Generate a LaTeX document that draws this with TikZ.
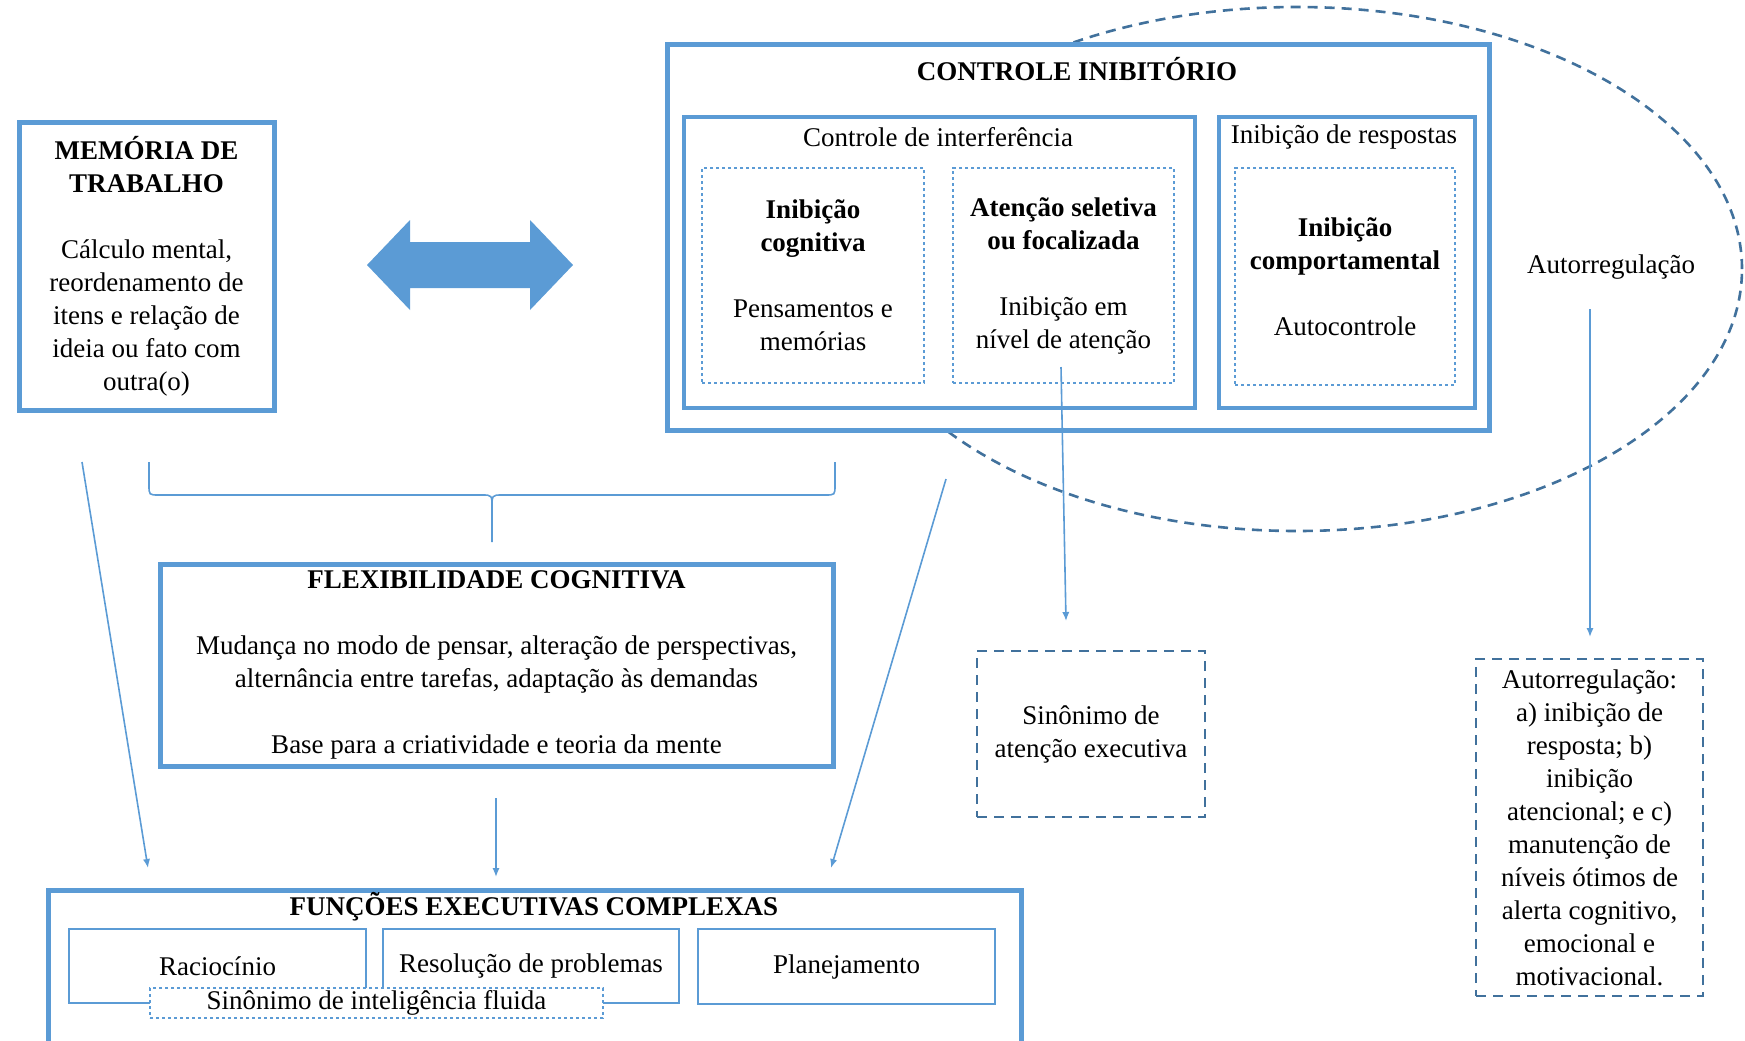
\documentclass[tikz,border=0pt]{standalone}
\usepackage{fontspec}
\setmainfont{Liberation Serif}
\usetikzlibrary{arrows.meta}

\definecolor{boxblue}{RGB}{91,155,213}
\definecolor{dashblue}{RGB}{65,113,156}

\tikzset{
  mainbox/.style={draw=boxblue, line width=2.5pt, fill=white, align=center, inner sep=0pt},
  subbox/.style={draw=boxblue, line width=2pt, fill=white, inner sep=0pt},
  innerbox/.style={draw=boxblue, line width=0.6pt, dash pattern=on 1.6pt off 1.4pt, align=center, inner sep=0pt},
  notebox/.style={draw=dashblue, line width=1.3pt, dash pattern=on 5pt off 3.5pt, align=center, inner sep=0pt},
  thinbox/.style={draw=boxblue, line width=0.8pt, fill=white, inner sep=0pt},
  boxsize/.style 2 args={minimum width=#1*0.5pt, minimum height=#2*0.5pt},
  link/.style={draw=boxblue, line width=0.8pt, -{Latex[length=4.5pt,width=3.6pt]}},
}

\begin{document}
\begin{tikzpicture}[x=0.5pt, y=-0.5pt, font=\fontsize{13.5}{16.5}\selectfont]
        \useasboundingbox (0,0) rectangle (1745,1040);
        % self-regulation ellipse, behind the inhibitory control box
        \draw[dashblue, line width=1.3pt, dash pattern=on 5pt off 3.5pt] (1297,269) ellipse (222.5pt and 131pt);
        % working memory
        \node[mainbox, boxsize={255}{288}] (mem) at (146.5,266)
          {\textbf{MEMÓRIA DE}\\\textbf{TRABALHO}\\[16.5pt]Cálculo mental,\\reordenamento de\\itens e relação de\\ideia ou fato com\\outra(o)};
        % coordinates for the double arrow
        \coordinate (leftpoint)   at (367,265);
        \coordinate (rightpoint)  at (573,265);
        \fill[boxblue] (leftpoint) -- (410,220) -- (410,242) -- (530,242) -- (530,220)
          -- (rightpoint) -- (530,310) -- (530,288) -- (410,288) -- (410,310) -- cycle;
        % inhibitory control
        \node[mainbox, boxsize={822}{386}] (ci) at (1078,237) {};
        \node (citit) at (1077,69) {\textbf{CONTROLE INIBITÓRIO}};
        \node[subbox, boxsize={511}{291}] (cint)  at (939.5,262.5) {};
        \node[subbox, boxsize={256}{291}] (iresp) at (1347,262.5) {};
        \node (cinttit)  at (938,137)  {Controle de interferência};
        \node (iresptit) at (1344,137) {Inibição de respostas};
        \node[innerbox, boxsize={222}{215}] (icog) at (813,275.5)
          {\textbf{Inibição}\\\textbf{cognitiva}\\[16.5pt]Pensamentos e\\memórias};
        \node[innerbox, boxsize={221}{215}] (aten) at (1063.5,275.5)
          {\textbf{Atenção seletiva}\\\textbf{ou focalizada}\\[16.5pt]Inibição em\\nível de atenção};
        \node[innerbox, boxsize={220}{217}] (icomp) at (1345,276.5)
          {\textbf{Inibição}\\\textbf{comportamental}\\[16.5pt]Autocontrole};
        \node (autotxt) at (1611,267) {Autorregulação};
        % cognitive flexibility
        \node[mainbox, boxsize={673}{202}] (flex) at (496.5,665)
          {\textbf{FLEXIBILIDADE COGNITIVA}\\[16.5pt]Mudança no modo de pensar, alteração de perspectivas,\\alternância entre tarefas, adaptação às demandas\\[16.5pt]Base para a criatividade e teoria da mente};
        % notes
        \node[notebox, boxsize={228}{166}] (atexec) at (1091,734) {Sinônimo de\\atenção executiva};
        \node[notebox, boxsize={227}{337}] (autoreg) at (1589.5,827.5)
          {Autorregulação:\\a) inibição de\\resposta; b)\\inibição\\atencional; e c)\\manutenção de\\níveis ótimos de\\alerta cognitivo,\\emocional e\\motivacional.};
        % complex executive functions
        \node[mainbox, boxsize={973}{170}] (func) at (534.5,975) {};
        \node (functit) at (534,907) {\textbf{FUNÇÕES EXECUTIVAS COMPLEXAS}};
        \node[thinbox, boxsize={297}{74}] (rac)   at (217.5,966) {Raciocínio};
        \node[thinbox, boxsize={296}{74}] (resol) at (531,966)   {Resolução de problemas};
        \node[thinbox, boxsize={297}{75}] (plan)  at (846.5,966.5) {Planejamento};
        \node[innerbox, fill=white, boxsize={453}{30}] (fluida) at (376.5,1003) {Sinônimo de inteligência fluida};
        % coordinates for the connectors
        \coordinate (memdown)    at (82,462);
        \coordinate (funcleft)   at (148,868);
        \coordinate (flexdown)   at (496,798);
        \coordinate (functop)    at (496,877);
        \coordinate (cidown)     at (946,479);
        \coordinate (funcright)  at (831,868);
        \coordinate (atenfoot)   at (1061,367);
        \coordinate (atexectop)  at (1066,621);
        \coordinate (autofoot)   at (1590,309);
        \coordinate (autoregtop) at (1590,637);
        \coordinate (braceleft)  at (149,462);
        \coordinate (braceright) at (835,462);
        \coordinate (bracetip)   at (492,542);
        % brace joining memory and inhibitory control
        \draw[boxblue, line width=0.8pt] (braceleft) -- (149,485) .. controls (149,495) .. (159,495)
          -- (482,495) .. controls (492,495) .. (492,508) -- (bracetip);
        \draw[boxblue, line width=0.8pt] (braceright) -- (835,485) .. controls (835,495) .. (825,495)
          -- (502,495) .. controls (492,495) .. (492,508);
        % arrows
        \draw[link] (memdown)  -- (funcleft);
        \draw[link] (flexdown) -- (functop);
        \draw[link] (cidown)   -- (funcright);
        \draw[link] (atenfoot) -- (atexectop);
        \draw[link] (autofoot) -- (autoregtop);
\end{tikzpicture}
\end{document}
